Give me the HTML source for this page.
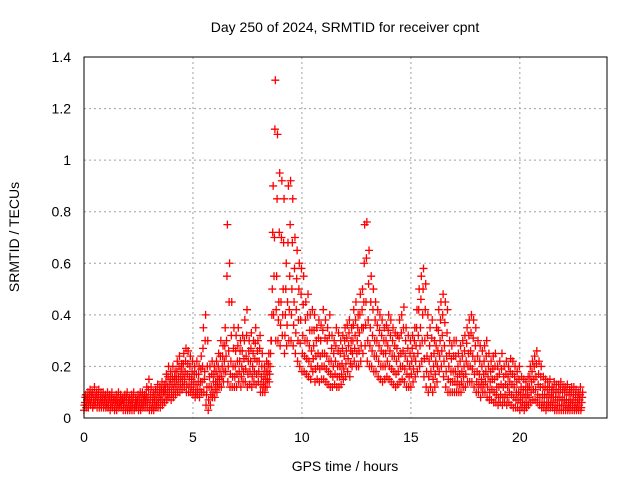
<!DOCTYPE html>
<html><head><meta charset="utf-8"><style>
body{margin:0;background:#fff}
svg{display:block;font-family:"Liberation Sans",sans-serif}
</style></head><body>
<svg id="chart" width="640" height="480" viewBox="0 0 640 480">
<text x="345" y="32" font-size="14" text-anchor="middle">Day 250 of 2024, SRMTID for receiver cpnt</text>
<text transform="translate(19,237) rotate(-90)" font-size="14" text-anchor="middle">SRMTID / TECUs</text>
<text x="345" y="471" font-size="14" text-anchor="middle">GPS time / hours</text>
<g id="grid"></g><g id="ticks"></g><g id="marks"></g>
<rect x="84" y="57" width="523" height="361" fill="none" stroke="#000" stroke-width="1"/>
</svg>
<script>
const xTicks=[0,5,10,15,20];
const yTicks=[0,0.2,0.4,0.6,0.8,1,1.2,1.4];
const yTickLabels=["0","0.2","0.4","0.6","0.8","1","1.2","1.4"];
const binHours=0.1;
const hiVals=[.09,.1,.11,.1,.12,.1,.11,.1,.1,.09,.1,.09,.1,.08,.09,.1,.09,.08,.09,.1,.08,.09,.1,.08,.09,.1,.1,.09,.12,.15,.12,.1,.11,.13,.12,.14,.13,.17,.2,.18,.2,.18,.22,.24,.21,.25,.27,.26,.24,.22,.2,.22,.2,.24,.35,.4,.3,.2,.22,.2,.22,.25,.3,.28,.35,.75,.6,.45,.35,.32,.35,.3,.32,.38,.42,.3,.33,.3,.35,.3,.32,.25,.2,.22,.25,.3,.9,1.31,1.1,.95,.92,.85,.6,.9,.92,.85,.7,.65,.6,.58,.55,.45,.48,.4,.42,.4,.35,.38,.36,.42,.38,.35,.4,.32,.3,.35,.33,.3,.32,.35,.36,.38,.35,.42,.45,.4,.48,.5,.75,.76,.65,.55,.5,.45,.42,.4,.38,.35,.36,.4,.38,.35,.33,.32,.38,.4,.43,.35,.32,.3,.32,.35,.42,.5,.55,.58,.52,.4,.35,.38,.3,.35,.42,.45,.48,.45,.42,.3,.28,.3,.3,.25,.28,.3,.32,.35,.38,.4,.38,.35,.3,.28,.26,.28,.3,.25,.22,.24,.25,.2,.22,.25,.2,.22,.2,.23,.22,.2,.18,.2,.16,.15,.14,.16,.2,.22,.24,.26,.22,.2,.16,.15,.14,.15,.12,.14,.13,.13,.14,.12,.12,.13,.11,.12,.12,.11,.1,.12,.1];
const q3Vals=[.08,.08,.09,.09,.09,.09,.09,.08,.08,.08,.08,.08,.08,.07,.07,.08,.07,.07,.08,.08,.07,.07,.08,.07,.07,.08,.08,.08,.09,.11,.09,.08,.09,.1,.1,.11,.11,.14,.16,.15,.16,.16,.18,.2,.19,.21,.22,.21,.2,.18,.17,.17,.17,.19,.27,.3,.2,.16,.17,.17,.18,.2,.24,.24,.28,.55,.45,.32,.27,.26,.28,.26,.26,.3,.32,.26,.27,.25,.29,.26,.27,.2,.17,.18,.21,.25,.72,1.12,.85,.72,.7,.68,.5,.68,.75,.68,.58,.54,.5,.48,.44,.38,.4,.34,.34,.34,.3,.31,.3,.34,.31,.3,.32,.27,.25,.28,.26,.25,.27,.3,.31,.33,.3,.36,.38,.35,.4,.42,.6,.62,.52,.45,.42,.38,.36,.34,.32,.3,.3,.34,.32,.3,.28,.27,.31,.33,.35,.3,.27,.25,.27,.3,.35,.42,.46,.5,.42,.32,.28,.31,.25,.28,.34,.38,.4,.37,.33,.25,.23,.24,.24,.2,.22,.24,.26,.29,.32,.33,.31,.28,.24,.22,.2,.22,.24,.2,.18,.19,.2,.16,.17,.19,.16,.17,.16,.18,.17,.16,.14,.15,.12,.11,.11,.12,.16,.18,.2,.21,.17,.16,.12,.12,.11,.12,.1,.11,.1,.1,.11,.1,.1,.1,.09,.1,.09,.09,.08,.09,.08];
const midVals=[.06,.07,.07,.08,.07,.08,.07,.07,.07,.07,.06,.07,.06,.07,.06,.06,.06,.07,.06,.06,.06,.05,.06,.05,.06,.06,.06,.07,.07,.08,.07,.06,.07,.07,.08,.09,.1,.11,.12,.13,.13,.14,.15,.16,.16,.17,.18,.17,.16,.15,.14,.13,.14,.14,.2,.18,.12,.12,.12,.14,.14,.16,.18,.2,.22,.3,.26,.22,.2,.2,.22,.22,.2,.23,.24,.22,.22,.2,.23,.22,.22,.16,.14,.15,.18,.2,.5,.7,.55,.45,.45,.5,.4,.45,.55,.5,.45,.42,.38,.38,.32,.3,.3,.28,.26,.28,.24,.25,.24,.25,.25,.24,.22,.22,.2,.22,.2,.2,.21,.24,.26,.28,.26,.3,.32,.3,.33,.35,.45,.45,.38,.35,.32,.3,.3,.28,.26,.25,.25,.28,.26,.24,.24,.22,.24,.25,.26,.24,.22,.2,.22,.24,.28,.32,.35,.4,.3,.24,.22,.24,.2,.22,.26,.3,.32,.28,.24,.2,.18,.18,.18,.16,.17,.18,.2,.22,.25,.26,.24,.22,.18,.17,.15,.17,.18,.16,.14,.15,.15,.12,.12,.13,.12,.13,.12,.14,.13,.12,.1,.1,.09,.08,.08,.09,.12,.14,.15,.16,.13,.12,.09,.09,.08,.09,.08,.08,.08,.07,.08,.07,.07,.07,.06,.07,.07,.06,.06,.07,.06];
const q1Vals=[.05,.05,.06,.06,.05,.06,.06,.05,.06,.05,.05,.05,.05,.05,.04,.05,.05,.05,.05,.04,.04,.04,.05,.04,.05,.04,.05,.05,.06,.06,.05,.04,.05,.05,.06,.07,.07,.09,.09,.1,.1,.11,.12,.13,.13,.14,.15,.13,.13,.12,.11,.1,.11,.11,.14,.15,.09,.07,.09,.1,.11,.13,.15,.16,.18,.24,.2,.17,.16,.16,.17,.18,.16,.18,.19,.17,.18,.16,.18,.17,.18,.13,.12,.12,.15,.17,.4,.55,.42,.38,.36,.4,.32,.36,.42,.4,.36,.33,.3,.29,.25,.24,.23,.22,.2,.23,.19,.2,.19,.2,.2,.19,.18,.17,.16,.17,.16,.16,.17,.19,.21,.23,.21,.25,.27,.25,.26,.28,.35,.36,.3,.28,.26,.24,.24,.22,.2,.2,.2,.22,.2,.19,.18,.17,.18,.2,.2,.19,.17,.16,.17,.19,.22,.25,.28,.3,.23,.18,.16,.18,.15,.17,.2,.24,.26,.22,.18,.15,.14,.14,.14,.13,.13,.14,.16,.17,.2,.2,.19,.17,.14,.13,.12,.13,.14,.12,.1,.11,.1,.09,.08,.09,.08,.09,.08,.1,.09,.08,.07,.07,.06,.06,.05,.06,.08,.1,.11,.11,.09,.08,.06,.06,.05,.06,.06,.06,.05,.05,.05,.05,.05,.05,.04,.05,.05,.04,.04,.05,.04];
const loVals=[.03,.04,.04,.05,.04,.05,.04,.04,.04,.04,.04,.04,.03,.04,.03,.03,.04,.04,.03,.03,.03,.03,.03,.03,.04,.03,.03,.04,.04,.04,.03,.03,.03,.04,.04,.04,.05,.06,.07,.08,.07,.08,.09,.1,.1,.11,.12,.1,.1,.1,.09,.08,.09,.08,.1,.1,.05,.03,.05,.08,.08,.1,.12,.12,.14,.18,.14,.12,.12,.12,.12,.14,.12,.14,.14,.12,.13,.12,.14,.13,.14,.1,.1,.1,.12,.14,.3,.4,.3,.3,.28,.32,.25,.28,.3,.3,.28,.25,.22,.2,.18,.18,.17,.16,.15,.18,.14,.15,.14,.15,.15,.14,.13,.12,.12,.13,.12,.12,.13,.15,.16,.18,.16,.2,.22,.2,.2,.22,.25,.28,.22,.2,.2,.18,.18,.16,.15,.14,.15,.16,.15,.14,.13,.12,.13,.14,.15,.14,.12,.12,.12,.14,.16,.18,.2,.22,.16,.12,.1,.12,.1,.12,.14,.18,.2,.16,.12,.1,.1,.1,.1,.1,.1,.1,.12,.12,.14,.14,.14,.12,.1,.1,.08,.1,.1,.08,.07,.07,.06,.06,.05,.06,.05,.06,.05,.06,.05,.04,.04,.04,.03,.04,.03,.04,.05,.06,.07,.07,.06,.05,.04,.04,.03,.04,.04,.04,.03,.03,.03,.03,.03,.03,.03,.03,.03,.03,.03,.03,.03];
const X0=84,X1=607,Y0=418,Y1=57,XMAX=24,YMAX=1.4;
function xs(h){return X0+(X1-X0)*h/XMAX;}
function ys(v){return Y0-(Y0-Y1)*v/YMAX;}
const NS="http://www.w3.org/2000/svg";
const grid=document.getElementById('grid'),ticks=document.getElementById('ticks'),marks=document.getElementById('marks');
function mk(tag,attrs,parent){const e=document.createElementNS(NS,tag);for(const k in attrs)e.setAttribute(k,attrs[k]);parent.appendChild(e);return e;}
xTicks.forEach(t=>{
  const x=xs(t);
  if(t>0){const g=mk('line',{x1:x,x2:x,y1:Y1,y2:Y0,stroke:'#a0a0a0','stroke-dasharray':'2,3'},grid);
    
    }
  const l=mk('text',{x:x,y:Y0+24,'font-size':14,'text-anchor':'middle'},ticks);l.textContent=t;
  
  
});
yTicks.forEach((t,i)=>{
  const y=ys(t);
  if(t>0&&t<YMAX){const g=mk('line',{x1:X0,x2:X1,y1:y,y2:y,stroke:'#a0a0a0','stroke-dasharray':'2,3'},grid);
    
    }
  const l=mk('text',{x:71,y:y+5,'font-size':14,'text-anchor':'end'},ticks);l.textContent=yTickLabels[i];
  
  
});
function cross(h,v,col){
  const x=xs(h),y=ys(v);
  const p=mk('path',{d:`M${x-4},${y}h8M${x},${y-4}v8`,stroke:col,'stroke-width':1.3,fill:'none'},marks);
  
  
}
[[loVals,0],[q1Vals,0.02],[midVals,0.04],[q3Vals,0.06],[hiVals,0.08]].forEach(([arr,off])=>{
  arr.forEach((v,i)=>cross(i*binHours+off,v,'#ff0000'));
});
</script>
</body></html>
